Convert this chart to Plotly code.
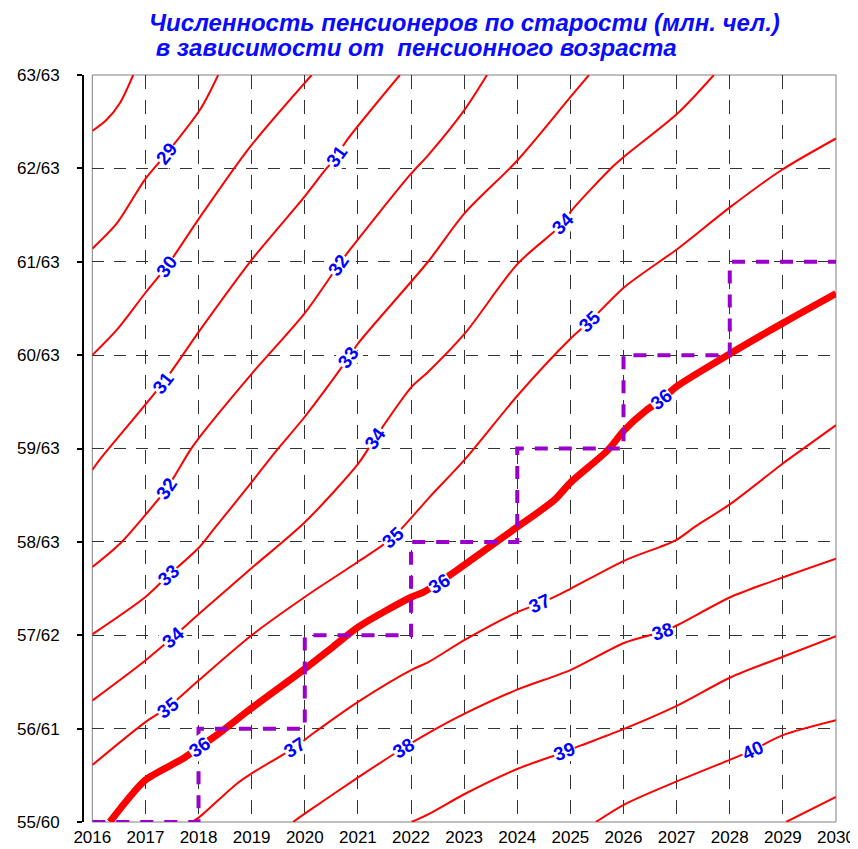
import plotly.graph_objects as go

# ---- data (x: year, y: women's pension age; tick text women/men) ----
years = list(range(2016, 2031))
age_vals = [55, 56, 57, 58, 59, 60, 61, 62, 63]
age_text = ["55/60", "56/61", "57/62", "58/63", "59/63", "60/63", "61/63", "62/63", "63/63"]

c28_x = [2016.00, 2016.27, 2016.52, 2016.77]
c28_y = [62.40, 62.52, 62.70, 63.00]
c29_x = [2016.00, 2016.46, 2016.99, 2017.40, 2018.03, 2018.37]
c29_y = [61.14, 61.41, 61.88, 62.16, 62.63, 63.00]
c30_x = [2016.00, 2016.46, 2016.99, 2017.40, 2018.03, 2018.97, 2020.13]
c30_y = [60.00, 60.27, 60.66, 60.95, 61.48, 62.23, 63.00]
c31_x = [2016.00, 2016.14, 2017.34, 2018.03, 2019.00, 2020.00, 2020.38, 2020.60, 2020.79, 2021.79]
c31_y = [58.77, 58.88, 59.71, 60.27, 61.02, 61.70, 61.98, 62.13, 62.30, 63.00]
c32_x = [2016.00, 2016.52, 2017.00, 2017.40, 2017.84, 2018.03, 2019.00, 2020.00, 2020.63, 2020.85, 2021.98, 2022.32, 2023.01, 2023.43]
c32_y = [57.73, 57.98, 58.29, 58.57, 58.98, 59.13, 59.80, 60.45, 60.96, 61.13, 61.93, 62.14, 62.63, 63.00]
c33_x = [2016.00, 2017.00, 2017.43, 2018.01, 2018.28, 2019.00, 2019.47, 2020.00, 2020.82, 2021.01, 2022.32, 2023.01, 2024.01, 2025.01, 2025.35]
c33_y = [57.01, 57.41, 57.64, 57.94, 58.13, 58.64, 58.98, 59.34, 59.97, 60.13, 61.00, 61.52, 62.09, 62.77, 63.00]
c34_x = [2016.00, 2017.00, 2017.52, 2018.01, 2019.00, 2020.00, 2021.01, 2021.32, 2022.01, 2022.32, 2023.01, 2024.01, 2024.86, 2025.01, 2025.80, 2026.02, 2027.02, 2027.70]
c34_y = [56.30, 56.73, 56.98, 57.23, 57.72, 58.21, 58.84, 59.11, 59.66, 59.82, 60.23, 60.98, 61.41, 61.54, 62.02, 62.13, 62.59, 63.00]
c35_x = [2016.00, 2017.00, 2017.43, 2018.01, 2019.00, 2020.00, 2021.01, 2021.66, 2022.35, 2023.01, 2024.01, 2025.01, 2025.36, 2026.02, 2027.02, 2028.02, 2028.97, 2030.00]
c35_y = [55.61, 56.07, 56.23, 56.52, 57.00, 57.41, 57.79, 58.05, 58.48, 58.88, 59.57, 60.18, 60.36, 60.73, 61.14, 61.59, 61.98, 62.32]
c36_x = [2016.33, 2016.65, 2017.00, 2017.71, 2018.01, 2018.34, 2019.00, 2020.00, 2020.54, 2021.01, 2022.01, 2022.23, 2022.54, 2022.82, 2023.88, 2024.70, 2025.01, 2025.70, 2026.02, 2026.43, 2026.71, 2026.99, 2028.02, 2028.99, 2030.00]
c36_y = [55.00, 55.23, 55.45, 55.68, 55.80, 55.93, 56.22, 56.64, 56.88, 57.09, 57.41, 57.46, 57.57, 57.68, 58.11, 58.45, 58.64, 58.98, 59.20, 59.41, 59.52, 59.66, 60.02, 60.34, 60.66]
c37_x = [2017.87, 2018.01, 2018.72, 2019.00, 2019.81, 2020.16, 2021.01, 2022.01, 2022.32, 2023.01, 2024.01, 2024.42, 2024.70, 2025.01, 2026.02, 2026.99, 2027.34, 2028.02, 2029.00, 2029.34, 2030.00]
c37_y = [55.00, 55.05, 55.41, 55.52, 55.80, 55.95, 56.29, 56.63, 56.71, 56.95, 57.25, 57.34, 57.41, 57.50, 57.80, 58.02, 58.16, 58.41, 58.84, 58.98, 59.25]
c38_x = [2019.78, 2020.00, 2021.01, 2021.85, 2022.35, 2023.01, 2024.01, 2025.01, 2026.02, 2026.74, 2027.02, 2028.02, 2029.00, 2030.00]
c38_y = [55.00, 55.09, 55.48, 55.79, 55.96, 56.16, 56.42, 56.63, 56.92, 57.04, 57.11, 57.41, 57.62, 57.82]
c39_x = [2022.01, 2022.35, 2023.01, 2024.01, 2024.89, 2025.20, 2026.02, 2027.02, 2028.02, 2029.00, 2030.00]
c39_y = [55.00, 55.09, 55.30, 55.57, 55.75, 55.82, 56.00, 56.25, 56.55, 56.77, 56.99]
c40_x = [2025.48, 2026.02, 2027.02, 2028.02, 2028.43, 2029.00, 2030.00]
c40_y = [55.00, 55.19, 55.44, 55.67, 55.77, 55.93, 56.09]
c41_x = [2029.06, 2030.00]
c41_y = [55.00, 55.27]

step_x = [2016, 2018, 2018, 2020, 2020, 2022, 2022, 2024, 2024, 2026, 2026, 2028, 2028, 2030]
step_y = [55, 55, 56, 56, 57, 57, 58, 58, 59, 59, 60, 60, 61, 61]

label_text = ["29", "30", "31", "32", "33", "34", "35", "36",
              "31", "32", "33", "34", "35", "36", "37", "38",
              "34", "35", "36", "37", "38", "39", "40"]
label_x = [2017.40, 2017.40, 2017.34, 2017.40, 2017.43, 2017.52, 2017.43, 2018.01,
           2020.60, 2020.63, 2020.82, 2021.32, 2021.66, 2022.54, 2019.81, 2021.85,
           2024.86, 2025.36, 2026.71, 2024.42, 2026.74, 2024.89, 2028.43]
label_y = [62.16, 60.95, 59.71, 58.57, 57.64, 56.98, 56.23, 55.80,
           62.13, 60.96, 59.97, 59.11, 58.05, 57.55, 55.80, 55.79,
           61.41, 60.36, 59.52, 57.34, 57.04, 55.75, 55.77]
label_angle = [-52, -54, -52, -56, -43, -41, -38, -35,
               -54, -55, -54, -55, -42, -32, -33, -32,
               -45, -44, -38, -24, -18, -21, -25]

title_line1 = "Численность пенсионеров по старости (млн. чел.)"
title_line2 = "\u00a0в зависимости от \u00a0пенсионного возраста"

# ---- figure ----
thin_lines = [(c28_x, c28_y), (c29_x, c29_y), (c30_x, c30_y), (c31_x, c31_y),
              (c32_x, c32_y), (c33_x, c33_y), (c34_x, c34_y), (c35_x, c35_y),
              (c37_x, c37_y), (c38_x, c38_y), (c39_x, c39_y), (c40_x, c40_y),
              (c41_x, c41_y)]

fig = go.Figure()
for xs, ys in thin_lines:
    fig.add_trace(go.Scatter(x=xs, y=ys, mode="lines",
                             line=dict(color="#ff0000", width=2, shape="spline", smoothing=0.8),
                             hoverinfo="skip", showlegend=False))
fig.add_trace(go.Scatter(x=c36_x, y=c36_y, mode="lines",
                         line=dict(color="#ff0000", width=7, shape="spline", smoothing=0.8),
                         hoverinfo="skip", showlegend=False))
fig.add_trace(go.Scatter(x=step_x, y=step_y, mode="lines",
                         line=dict(color="#9900cc", width=4, dash="13px,11px"),
                         hoverinfo="skip", showlegend=False))

for t, x, y, a in zip(label_text, label_x, label_y, label_angle):
    fig.add_annotation(x=x, y=y, xref="x", yref="y", text=t, showarrow=False,
                       textangle=a, bgcolor="white", borderpad=0,
                       font=dict(family="Liberation Sans, Arial", size=19,
                                 color="#0000ff", weight="bold"))

# page body has an 8px margin, so the figure is 8px smaller than the window
W, H = 850, 841
ml, mr, mt, mb = 75, 22, 67, 27
pw = W - ml - mr
ph = H - mt - mb
x_start = 9.3 / pw

title_font = dict(family="Liberation Sans, Arial", size=24,
                  color="#0a0aff", weight="bold", style="italic")
for txt, cy in [(title_line1, 14.5), (title_line2, 39.5)]:
    fig.add_annotation(xref="paper", yref="paper",
                       x=(139 - ml) / pw, y=1 + (mt - cy) / ph,
                       xanchor="left", yanchor="middle", align="left",
                       showarrow=False, text=txt, font=title_font)

fig.add_shape(type="rect", xref="x domain", yref="y domain",
              x0=0, x1=1, y0=0, y1=1, layer="below",
              line=dict(color="#808080", width=1))

fig.update_layout(
    width=W, height=H,
    margin=dict(l=ml, r=mr, t=mt, b=mb, pad=0, autoexpand=False),
    plot_bgcolor="white", paper_bgcolor="white",
    showlegend=False,
    xaxis=dict(domain=[x_start, 1], range=[2016, 2030], automargin=False,
               tickmode="array", tickvals=years, ticktext=[str(y) for y in years],
               showgrid=True, gridcolor="#333333", gridwidth=1, griddash="14px,11px",
               zeroline=False, showline=False, ticks="", ticklabelstandoff=3,
               tickfont=dict(family="Liberation Sans, Arial", size=17, color="black")),
    yaxis=dict(range=[55, 63], anchor="free", position=0, automargin=False,
               tickmode="array", tickvals=age_vals, ticktext=age_text,
               showgrid=True, gridcolor="#333333", gridwidth=1, griddash="12px,10px",
               zeroline=False, showline=True, linecolor="black", linewidth=2,
               ticks="outside", ticklen=5, tickwidth=1.5, tickcolor="black",
               ticklabelstandoff=14,
               tickfont=dict(family="Liberation Sans, Arial", size=17, color="black")),
)

fig.write_html("out.html")
